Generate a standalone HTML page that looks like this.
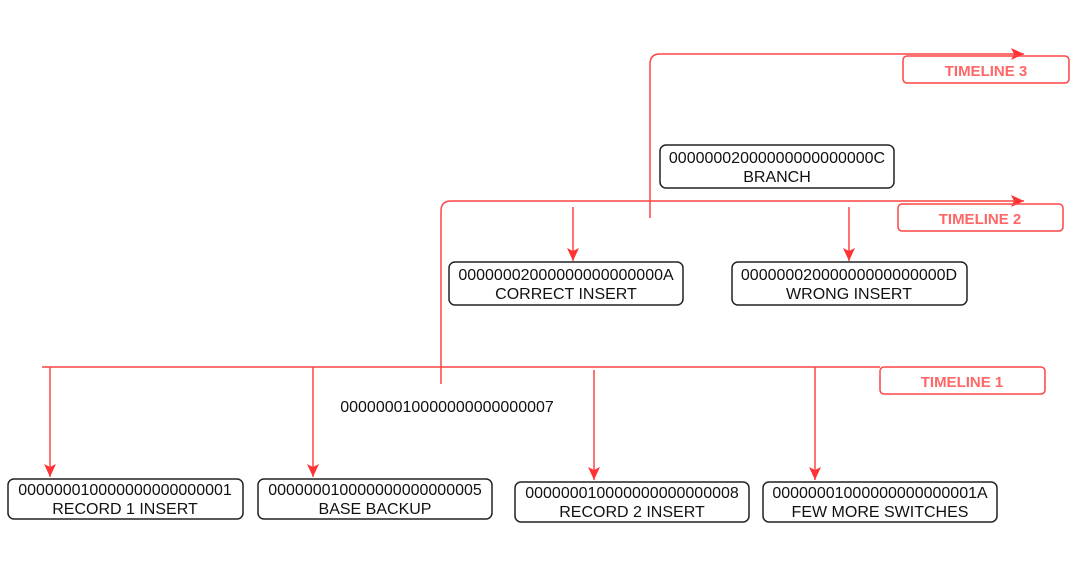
<!DOCTYPE html>
<html><head><style>body{margin:0;background:#fff}svg{display:block}text{font-family:"Liberation Sans",Arial,Helvetica,sans-serif}</style></head><body>
<svg width="1080" height="564" viewBox="0 0 1080 564">
<defs><marker id="a" markerWidth="14" markerHeight="14" refX="13" refY="6" orient="auto" markerUnits="userSpaceOnUse"><path d="M0,0 L13,6 L0,12 L3,6 Z" fill="#f33"/></marker></defs>
<g stroke="#f44" stroke-width="1.5" fill="none">
<line x1="42" y1="367" x2="880" y2="367"/>
<line x1="50" y1="367" x2="50" y2="477" marker-end="url(#a)"/>
<line x1="313" y1="367" x2="313" y2="477" marker-end="url(#a)"/>
<line x1="594" y1="370" x2="594" y2="480" marker-end="url(#a)"/>
<line x1="815" y1="367" x2="815" y2="480" marker-end="url(#a)"/>
<path d="M441,384 L441,211 Q441,201 451,201 L1024,201" marker-end="url(#a)"/>
<path d="M650,218 L650,64 Q650,54 660,54 L1024,54" marker-end="url(#a)"/>
<line x1="573" y1="207" x2="573" y2="261" marker-end="url(#a)"/>
<line x1="849" y1="207" x2="849" y2="261" marker-end="url(#a)"/>
<rect x="903" y="56" width="166" height="27" rx="4"/>
<rect x="898" y="204" width="165" height="27" rx="4"/>
<rect x="880" y="367" width="165" height="27" rx="4"/>
</g>
<g fill="#f66" font-weight="bold" font-size="15" text-anchor="middle">
<text x="986" y="76">TIMELINE 3</text>
<text x="980" y="224">TIMELINE 2</text>
<text x="962" y="387">TIMELINE 1</text>
</g>
<g stroke="#222" stroke-width="1.5" fill="#fff">
<rect x="660" y="145" width="234" height="43" rx="6"/>
<rect x="449" y="262" width="234" height="43" rx="6"/>
<rect x="732" y="262" width="235" height="43" rx="6"/>
<rect x="8" y="479" width="235" height="40" rx="6"/>
<rect x="258" y="479" width="234" height="40" rx="6"/>
<rect x="515" y="482" width="234" height="40" rx="6"/>
<rect x="763" y="482" width="234" height="40" rx="6"/>
</g>
<g fill="#111" font-size="16" text-anchor="middle">
<text x="777" y="163">00000002000000000000000C</text><text x="777" y="182">BRANCH</text>
<text x="566" y="280">00000002000000000000000A</text><text x="566" y="299">CORRECT INSERT</text>
<text x="849" y="280">00000002000000000000000D</text><text x="849" y="299">WRONG INSERT</text>
<text x="125" y="495">000000010000000000000001</text><text x="125" y="514">RECORD 1 INSERT</text>
<text x="375" y="495">000000010000000000000005</text><text x="375" y="514">BASE BACKUP</text>
<text x="632" y="498">000000010000000000000008</text><text x="632" y="517">RECORD 2 INSERT</text>
<text x="880" y="498">00000001000000000000001A</text><text x="880" y="517">FEW MORE SWITCHES</text>
<text x="447" y="412">000000010000000000000007</text>
</g>
</svg>
</body></html>
